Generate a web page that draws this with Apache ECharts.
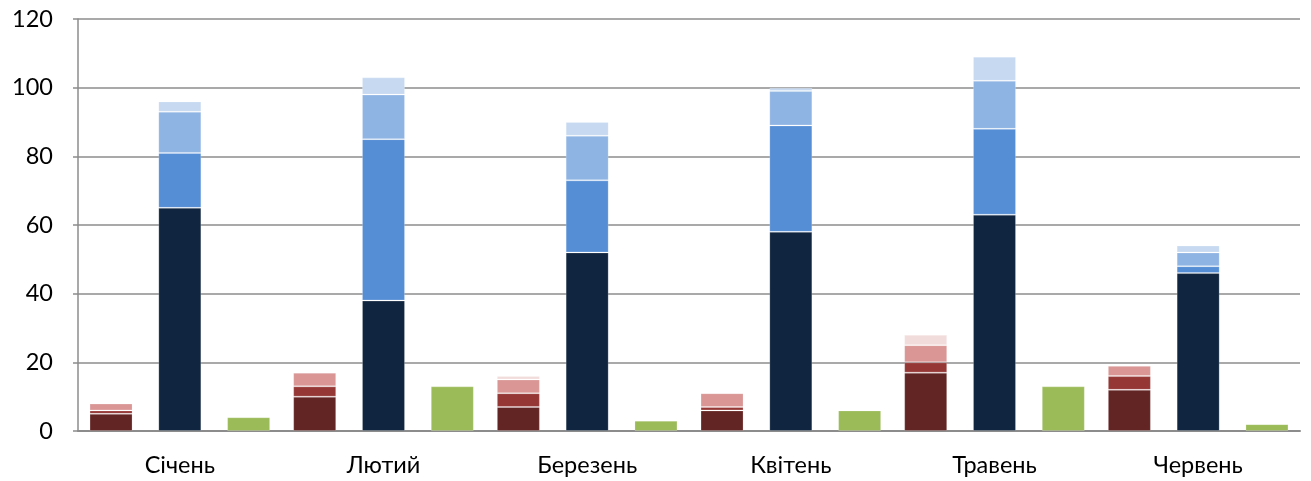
<!DOCTYPE html>
<html>
<head>
<meta charset="utf-8">
<script src="https://cdn.jsdelivr.net/npm/echarts@6/dist/echarts.min.js"></script>
<style>
html,body{margin:0;padding:0;background:#fff;}
#chart{width:1311px;height:481px;}
</style>
</head>
<body>
<div id="chart"></div>
<script>
const categories = ['Січень', 'Лютий', 'Березень', 'Квітень', 'Травень', 'Червень'];
const yTicks = [0, 20, 40, 60, 80, 100, 120];

// red stack (bottom to top)
const red1 = [5, 10, 7, 6, 17, 12];
const red2 = [1, 3, 4, 1, 3, 4];
const red3 = [2, 4, 4, 4, 5, 3];
const red4 = [0, 0, 1, 0, 3, 0];

// blue stack (bottom to top)
const blue1 = [65, 38, 52, 58, 63, 46];
const blue2 = [16, 47, 21, 31, 25, 2];
const blue3 = [12, 13, 13, 10, 14, 4];
const blue4 = [3, 5, 4, 1, 7, 2];

// green
const green = [4, 13, 3, 6, 13, 2];

const redColors = ['#632523', '#953735', '#D99694', '#F2DCDB'];
const blueColors = ['#10253F', '#558ED5', '#8EB4E3', '#C6D9F1'];
const greenColor = '#9BBB59';

function bar(name, data, stack, color) {
  return {
    name: name,
    type: 'bar',
    stack: stack,
    data: data,
    barWidth: 43,
    barGap: '60%',
    itemStyle: { color: color, borderColor: 'rgba(255,255,255,0.2)', borderWidth: 1 },
    emphasis: { disabled: true }
  };
}

const series = [
  bar('r1', red1, 'red', redColors[0]),
  bar('r2', red2, 'red', redColors[1]),
  bar('r3', red3, 'red', redColors[2]),
  bar('r4', red4, 'red', redColors[3]),
  bar('b1', blue1, 'blue', blueColors[0]),
  bar('b2', blue2, 'blue', blueColors[1]),
  bar('b3', blue3, 'blue', blueColors[2]),
  bar('b4', blue4, 'blue', blueColors[3]),
  bar('g', green, 'green', greenColor)
];

const chart = echarts.init(document.getElementById('chart'));
chart.setOption({
  animation: false,
  backgroundColor: '#ffffff',
  grid: { left: 78, right: 11, top: 19, bottom: 50, containLabel: false },
  xAxis: {
    type: 'category',
    data: categories,
    axisLine: { show: true, lineStyle: { color: '#8c8c8c', width: 2 } },
    axisTick: { show: false },
    axisLabel: { color: '#000', fontSize: 23.5, fontFamily: 'Lato', margin: 22 }
  },
  yAxis: {
    type: 'value',
    min: yTicks[0],
    max: yTicks[yTicks.length - 1],
    interval: 20,
    axisLine: { show: true, lineStyle: { color: '#8c8c8c', width: 1.5 } },
    axisTick: { show: true, length: 5, lineStyle: { color: '#8c8c8c', width: 1.5 } },
    axisLabel: { color: '#000', fontSize: 23.5, fontFamily: 'Lato', margin: 25 },
    splitLine: { show: true, lineStyle: { color: '#8c8c8c', width: 1.5 } }
  },
  series: series
});
</script>
</body>
</html>
